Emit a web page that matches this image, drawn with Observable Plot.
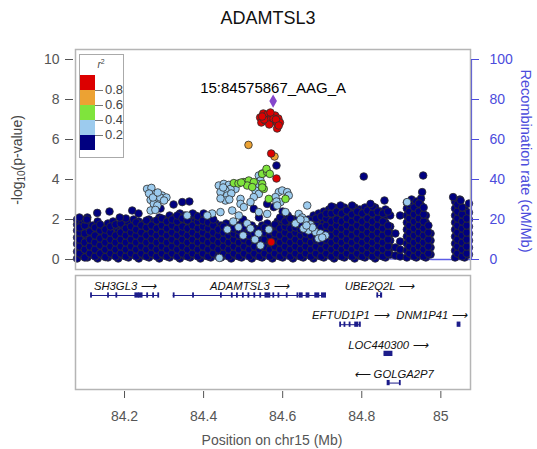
<!DOCTYPE html>
<html><head><meta charset="utf-8">
<script src="https://cdn.jsdelivr.net/npm/d3@7"></script>
<script src="https://cdn.jsdelivr.net/npm/@observablehq/plot@0.6"></script>
<style>
body{margin:0;background:#fff;font-family:"Liberation Sans",Arial,Helvetica,sans-serif;}
#wrap{position:relative;width:537px;height:449px;overflow:hidden;}
.abs{position:absolute;white-space:nowrap;}
.c{transform:translate(-50%,-50%);}
svg{position:absolute;left:0;}
</style></head><body><div id="wrap"></div>
<script>
// ---------- data ----------
const title = "ADAMTSL3";
const indexSnp = [{pos: 84.575867, p: 7.92, name: "15:84575867_AAG_A"}];
const xDomain = [84.076, 85.075];
const xTicks = [84.2, 84.4, 84.6, 84.8, 85];
const pTicks = [0, 2, 4, 6, 8, 10];
const recTicks = [0, 20, 40, 60, 80, 100];
const legendBreaks = ["0.8", "0.6", "0.4", "0.2"];
const ldColors = {red:"#dc0000", orange:"#eca233", green:"#7fe43c", lightblue:"#9ccbee", navy:"#000080", purple:"#8547cc"};

// recombination rate (cM/Mb)
const recPos = [84.076, 84.2, 84.35, 84.5, 84.65, 84.8, 84.95, 84.98, 85.03, 85.075];
const recRate = [0.4, 0.6, 0.3, 0.2, 0.5, 0.3, 0.2, 0, 0, 0];

// navy (r2 < 0.2) points: columns of -log10 p values
const navyCols = [
 [84.080,[0.05,0.4,0.78,1.1,1.45,1.75,2.0]],
 [84.093,[0.2,0.55,0.9,1.22,1.55,1.8]],
 [84.106,[0.1,0.45,0.8,1.15,1.48,1.8,2.1]],
 [84.119,[0.25,0.6,0.95,1.3,1.7]],
 [84.132,[0.05,0.42,0.75,1.1,1.45,1.9]],
 [84.145,[0.2,0.55,0.9,1.25,1.6]],
 [84.158,[0.1,0.45,0.8,1.12,1.5,1.8]],
 [84.171,[0.25,0.6,0.95,1.3,1.6,1.9]],
 [84.184,[0.05,0.4,0.75,1.1,1.4,1.7]],
 [84.197,[0.2,0.55,0.9,1.25,1.6,1.9]],
 [84.210,[0.1,0.45,0.8,1.15,1.5,1.8]],
 [84.223,[0.25,0.6,0.95,1.3,1.65,2.0]],
 [84.236,[0.05,0.4,0.75,1.1,1.45,1.9]],
 [84.249,[0.2,0.55,0.9,1.25,1.55,1.8]],
 [84.262,[0.1,0.45,0.8,1.15,1.5,1.8,2.0]],
 [84.275,[0.25,0.6,0.95,1.3,1.6,1.9]],
 [84.288,[0.05,0.4,0.75,1.1,1.45,1.8,2.1]],
 [84.301,[0.2,0.55,0.9,1.25,1.6,2.0]],
 [84.314,[0.1,0.45,0.8,1.15,1.5,1.85,2.2]],
 [84.327,[0.25,0.6,0.95,1.3,1.65,2.1]],
 [84.340,[0.05,0.4,0.75,1.1,1.45,1.8,2.3]],
 [84.353,[0.2,0.55,0.9,1.25,1.6,1.9,2.2]],
 [84.366,[0.1,0.45,0.8,1.15,1.5,1.8,2.1]],
 [84.379,[0.25,0.6,0.95,1.3,1.65,1.95,2.2]],
 [84.392,[0.05,0.4,0.75,1.1,1.45,1.75,2.0]],
 [84.405,[0.2,0.55,0.9,1.25,1.6,1.9,2.1]],
 [84.418,[0.1,0.45,0.8,1.15,1.5,1.9]],
 [84.431,[0.25,0.6,0.95,1.3,1.55,1.8]],
 [84.444,[0.1,0.45,0.8,1.15,1.45,1.7]],
 [84.457,[0.25,0.6,0.95,1.3,1.55,1.8]],
 [84.470,[0.05,0.4,0.75,1.1,1.35,1.6]],
 [84.483,[0.2,0.55,0.9,1.25,1.5,1.7]],
 [84.496,[0.1,0.45,0.8,1.15,1.5,1.8]],
 [84.509,[0.25,0.6,0.95,1.3,1.6]],
 [84.522,[0.05,0.4,0.75,1.1,1.4,1.7]],
 [84.535,[0.2,0.55,0.9,1.2,1.5]],
 [84.548,[0.1,0.45,0.8,1.15,1.45,1.7]],
 [84.561,[0.25,0.6,0.95,1.3,1.55,1.8]],
 [84.574,[0.05,0.4,0.75,1.1,1.35,1.6]],
 [84.587,[0.2,0.55,0.9,1.25,1.6,1.9]],
 [84.600,[0.1,0.45,0.8,1.15,1.5,1.8,2.0]],
 [84.613,[0.25,0.6,0.95,1.3,1.65,1.95,2.2]],
 [84.626,[0.05,0.4,0.75,1.1,1.45,1.75,2.0]],
 [84.639,[0.2,0.55,0.9,1.25,1.6,1.85,2.1]],
 [84.652,[0.1,0.45,0.8,1.15,1.5,1.9]],
 [84.665,[0.25,0.6,0.95,1.3,1.65,2.0]],
 [84.678,[0.05,0.4,0.75,1.1,1.45,1.8,2.2]],
 [84.691,[0.2,0.55,0.9,1.25,1.6,1.95,2.3]],
 [84.704,[0.1,0.45,0.8,1.15,1.5,1.85,2.15,2.4]],
 [84.717,[0.25,0.6,0.95,1.3,1.65,2.0,2.3,2.5]],
 [84.730,[0.05,0.4,0.75,1.1,1.45,1.8,2.15,2.6]],
 [84.743,[0.2,0.55,0.9,1.25,1.6,1.95,2.25,2.5]],
 [84.756,[0.1,0.45,0.8,1.15,1.5,1.85,2.2,2.6]],
 [84.769,[0.25,0.6,0.95,1.3,1.65,2.0,2.4]],
 [84.782,[0.05,0.4,0.75,1.1,1.45,1.8,2.15,2.6]],
 [84.795,[0.2,0.55,0.9,1.25,1.6,1.95,2.25,2.5]],
 [84.808,[0.1,0.45,0.8,1.15,1.5,1.85,2.2,2.6]],
 [84.821,[0.25,0.6,0.95,1.3,1.65,2.0,2.3,2.5]],
 [84.834,[0.05,0.4,0.75,1.1,1.45,1.8,2.15,2.6]],
 [84.847,[0.2,0.55,0.9,1.25,1.6,1.95,2.4]],
 [84.860,[0.1,0.45,0.8,1.15,1.5,1.85,2.2,2.5]],
 [84.872,[0.25,0.6,0.95,1.3,1.65,2.2]],
 [84.885,[0.2,0.6,1.3]],
 [84.897,[0.15,0.5,0.9,2.2]],
 [84.914,[0.1,0.45,0.8,1.15,1.5,1.85,2.2,2.55,2.85]],
 [84.926,[0.25,0.6,0.95,1.3,1.65,2.0,2.35,2.7,3.0]],
 [84.938,[0.1,0.45,0.8,1.15,1.5,1.85,2.2,2.55,2.9]],
 [84.950,[0.25,0.6,0.95,1.3,1.65,2.0,2.35,2.7,3.05]],
 [84.962,[0.1,0.45,0.8,1.15,1.5,1.85,2.2]],
 [84.974,[0.25,0.6,0.95,1.3]],
 [85.036,[0.1,0.45,0.8,1.15,1.5,1.85,2.2,2.55,2.9]],
 [85.048,[0.25,0.6,0.95,1.3,1.65,2.0,2.35,2.7,3.0]],
 [85.060,[0.1,0.45,0.8,1.15,1.5,1.85,2.2,2.55]],
 [85.071,[0.25,0.6,0.95,1.3,1.65,2.0,2.35,2.8]]
];
// second, interleaved set of navy columns (the mass is very dense)
const navyCols2 = [
 [84.0865,[0.3,0.65,1.0,1.35,1.6]],
 [84.0995,[0.1,0.5,0.85,1.3,1.7,2.0]],
 [84.1125,[0.3,0.65,1.0,1.4]],
 [84.1255,[0.15,0.5,0.85,1.2,1.6]],
 [84.1385,[0.3,0.7,1.05,1.45,1.75]],
 [84.1515,[0.12,0.5,0.85,1.2,1.5]],
 [84.1645,[0.3,0.65,1.0,1.35,1.65]],
 [84.1775,[0.15,0.5,0.85,1.2,1.75]],
 [84.1905,[0.3,0.65,1.0,1.35,1.8]],
 [84.2035,[0.15,0.5,0.85,1.2,1.55,2.05]],
 [84.2165,[0.3,0.65,1.0,1.35,1.65]],
 [84.2295,[0.15,0.5,0.85,1.2,1.5,1.85]],
 [84.2425,[0.3,0.65,1.0,1.35,1.7]],
 [84.2555,[0.15,0.5,0.85,1.2,1.6,1.95]],
 [84.2685,[0.3,0.65,1.0,1.35,1.7]],
 [84.2815,[0.15,0.5,0.85,1.2,1.55,1.95]],
 [84.2945,[0.3,0.65,1.0,1.35,1.7,2.05]],
 [84.3075,[0.15,0.5,0.85,1.2,1.55,1.9]],
 [84.3205,[0.3,0.65,1.0,1.35,1.7,2.0]],
 [84.3335,[0.15,0.5,0.85,1.2,1.55,1.9,2.2]],
 [84.3465,[0.3,0.65,1.0,1.35,1.65,2.05]],
 [84.3595,[0.15,0.5,0.85,1.2,1.55,1.95]],
 [84.3725,[0.3,0.65,1.0,1.35,1.7,2.3]],
 [84.3855,[0.15,0.5,0.85,1.2,1.55,1.9,2.15]],
 [84.3985,[0.3,0.65,1.0,1.35,1.65,1.95]],
 [84.4115,[0.15,0.5,0.85,1.2,1.55,1.85]],
 [84.4245,[0.3,0.65,1.0,1.35,1.7,2.0]],
 [84.4375,[0.15,0.5,0.85,1.2,1.5]],
 [84.4505,[0.3,0.65,1.0,1.35,1.65]],
 [84.4635,[0.15,0.5,0.85,1.2,1.45]],
 [84.4765,[0.3,0.65,1.0,1.3,1.55]],
 [84.4895,[0.15,0.5,0.85,1.2,1.45]],
 [84.5025,[0.3,0.65,1.0,1.35,1.65]],
 [84.5155,[0.15,0.5,0.85,1.2,1.45]],
 [84.5285,[0.3,0.65,1.0,1.3,1.55]],
 [84.5415,[0.15,0.5,0.85,1.2,1.5]],
 [84.5545,[0.3,0.65,1.0,1.35,1.6]],
 [84.5675,[0.15,0.5,0.85,1.2,1.45]],
 [84.5805,[0.3,0.65,1.0,1.3,1.75]],
 [84.5935,[0.15,0.5,0.85,1.2,1.55,2.1]],
 [84.6065,[0.3,0.65,1.0,1.35,1.65,1.9]],
 [84.6195,[0.15,0.5,0.85,1.2,1.55,2.05]],
 [84.6325,[0.3,0.65,1.0,1.35,1.6]],
 [84.6455,[0.15,0.5,0.85,1.2,1.5,1.75]],
 [84.6585,[0.3,0.65,1.0,1.3,1.65]],
 [84.6715,[0.15,0.5,0.85,1.2,1.55,1.95]],
 [84.6845,[0.3,0.65,1.0,1.35,1.7,2.05]],
 [84.6975,[0.15,0.5,0.85,1.2,1.6,2.15]],
 [84.7105,[0.3,0.65,1.0,1.35,1.7,2.05,2.3]],
 [84.7235,[0.15,0.5,0.85,1.2,1.55,1.9,2.3,2.65]],
 [84.7365,[0.3,0.65,1.0,1.35,1.7,2.0,2.4]],
 [84.7495,[0.15,0.5,0.85,1.2,1.55,1.9,2.3]],
 [84.7625,[0.3,0.65,1.0,1.35,1.7,2.05,2.45]],
 [84.7755,[0.15,0.5,0.85,1.2,1.55,1.9,2.25,2.7]],
 [84.7885,[0.3,0.65,1.0,1.35,1.7,2.05,2.4]],
 [84.8015,[0.15,0.5,0.85,1.2,1.55,1.9,2.3]],
 [84.8145,[0.3,0.65,1.0,1.35,1.7,2.05,2.45]],
 [84.8275,[0.15,0.5,0.85,1.2,1.55,1.9,2.3,2.65]],
 [84.8405,[0.3,0.65,1.0,1.35,1.7,2.05,2.4]],
 [84.8535,[0.15,0.5,0.85,1.2,1.55,1.9,2.3]],
 [84.8665,[0.3,0.65,1.0,1.35,1.7,2.4]],
 [84.9205,[0.3,0.65,1.0,1.35,1.7,2.05,2.4,2.75]],
 [84.9325,[0.15,0.5,0.85,1.2,1.55,1.9,2.25,2.6]],
 [84.9445,[0.3,0.65,1.0,1.35,1.7,2.05,2.4,2.8]],
 [84.9565,[0.15,0.5,0.85,1.2,1.55,1.9,2.25,2.6]],
 [84.9685,[0.3,0.65,1.0,1.35,1.7]],
 [85.0420,[0.3,0.65,1.0,1.35,1.7,2.05,2.4,2.75]],
 [85.0540,[0.15,0.5,0.85,1.2,1.55,1.9,2.25,2.6]],
 [85.0655,[0.3,0.65,1.0,1.35,1.7,2.05]]
];
const navyExtra = [[84.086,2.1],[84.131,2.33],[84.162,2.4],[84.2195,2.45],[84.2354,2.3],[84.291,2.55],
 [84.324,2.75],[84.346,2.87],[84.364,2.9],[84.6,2.4],[84.5269,2.53],[84.5608,2.78],[84.5775,2.62],
 [84.5843,4.7],[84.805,4.15],[84.9553,4.2],[84.9527,3.37],[84.7462,2.7],[84.822,2.78],[84.8574,2.95],
 [85.031,3.12],[85.05,2.95],[84.105,2.0],[84.188,2.1],[84.4,2.3],[84.5,2.0],[84.54,2.1]];

const lightblueSnps = [[84.257,3.53],[84.268,3.58],[84.278,3.28],[84.295,3.2],[84.287,3.03],[84.266,2.98],
 [84.274,2.78],[84.283,2.7],[84.266,2.45],[84.278,2.48],[84.29,3.1],[84.262,3.3],[84.272,3.1],[84.306,3.1],
 [84.3,2.95],[84.284,3.35],[84.4217,2.3],[84.3585,2.2],[84.440,0.08],
 [84.4384,3.7],[84.451,3.78],[84.4637,3.73],[84.4764,3.78],[84.4807,3.53],[84.468,3.53],[84.4554,3.45],
 [84.4427,3.37],[84.4597,3.2],[84.4554,2.95],[84.4427,3.05],[84.4495,3.6],[84.47,3.3],[84.465,3.0],
 [84.5396,4.2],[84.5439,3.95],[84.5355,3.78],[84.5312,3.45],[84.5396,3.28],[84.5269,3.12],[84.5186,2.87],
 [84.4933,3.03],[84.4933,2.78],[84.5017,2.62],[84.5901,3.37],[84.5987,3.45],[84.6114,3.37],[84.5944,2.87],
 [84.5818,3.12],[84.5482,4.3],[84.6154,3.2],[84.5843,2.9],[84.662,2.7],
 [84.4091,2.2],[84.4427,2.37],[84.4723,2.45],[84.489,2.2],[84.5396,2.37],[84.5608,2.28],[84.5861,2.7],
 [84.6071,2.37],[84.4882,1.62],[84.5102,1.8],[84.5186,1.55],[84.5388,1.3],[84.5439,0.7],[84.5649,1.5],
 [84.5,1.2],[84.53,1.0],[84.475,1.9],[84.46,1.5],
 [84.6324,1.8],[84.6407,2.28],[84.6493,2.1],[84.6577,1.95],[84.6652,1.45],[84.683,1.37],[84.6956,1.3],
 [84.6905,1.05],[84.6526,1.55],[84.6703,1.75],[84.6753,1.6],[84.7082,1.2],[84.645,2.0],[84.66,1.7],
 [84.7,1.1],[84.9148,2.87]];
const greenSnps = [[84.4764,3.82],[84.4882,3.8],[84.5017,3.87],[84.5143,3.95],[84.5269,3.87],[84.5102,3.7],
 [84.5229,3.62],[84.5482,3.78],[84.5522,3.53],[84.5482,4.28],[84.5608,4.37],[84.5649,3.03],[84.6071,3.03],
 [84.559,4.53],[84.5674,4.28],[84.5482,3.6],[84.495,3.85]];
const orangeSnps = [[84.5135,5.73],[84.5793,5.15]];
const redSnps = [[84.543,7.1],[84.551,7.3],[84.561,7.25],[84.571,7.15],[84.581,7.2],[84.589,7.05],
 [84.546,6.85],[84.556,6.95],[84.566,6.95],[84.576,6.9],[84.586,6.85],[84.593,6.85],[84.586,6.55],
 [84.566,6.75],[84.553,7.0],[84.577,7.05],[84.583,7.0],[84.548,7.15],[84.569,7.35],[84.59,6.7],
 [84.5709,5.3],[84.5843,4.05],[84.5709,0.87]];

// genes
const geneNames  = ["SH3GL3","ADAMTSL3","UBE2Q2L","EFTUD1P1","DNM1P41","LOC440300","GOLGA2P7"];
const geneStart  = [84.116, 84.323, 84.839, 84.746, 85.042, 84.857, 84.866];
const geneEnd    = [84.287, 84.709, 84.851, 84.797, 85.050, 84.877, 84.898];
const geneStrand = ["+","+","+","+","+","+","-"];
const geneRow    = [0, 0, 0, 1, 1, 2, 3];
const exonList = [
 ["SH3GL3",84.116,84.117],["SH3GL3",84.159,84.160],["SH3GL3",84.180,84.181],["SH3GL3",84.228,84.236],
 ["SH3GL3",84.238,84.245],["SH3GL3",84.258,84.259],["SH3GL3",84.273,84.274],["SH3GL3",84.286,84.287],
 ["ADAMTSL3",84.325,84.326],["ADAMTSL3",84.374,84.375],["ADAMTSL3",84.4445,84.4455],["ADAMTSL3",84.472,84.473],
 ["ADAMTSL3",84.485,84.486],["ADAMTSL3",84.500,84.501],["ADAMTSL3",84.514,84.515],["ADAMTSL3",84.529,84.530],
 ["ADAMTSL3",84.544,84.545],["ADAMTSL3",84.557,84.568],["ADAMTSL3",84.577,84.578],["ADAMTSL3",84.590,84.591],
 ["ADAMTSL3",84.611,84.612],["ADAMTSL3",84.638,84.639],["ADAMTSL3",84.644,84.650],["ADAMTSL3",84.661,84.667],
 ["ADAMTSL3",84.683,84.692],["ADAMTSL3",84.700,84.709],
 ["UBE2Q2L",84.840,84.841],["UBE2Q2L",84.849,84.851],
 ["EFTUD1P1",84.746,84.747],["EFTUD1P1",84.757,84.758],["EFTUD1P1",84.770,84.771],["EFTUD1P1",84.784,84.790],["EFTUD1P1",84.795,84.797],
 ["DNM1P41",85.043,85.049],
 ["LOC440300",84.858,84.877],
 ["GOLGA2P7",84.866,84.870],["GOLGA2P7",84.897,84.898]
];

// ---------- build ----------
(function () {
const blue = "#4c4cdc";
const FONT = "Liberation Sans, Arial, Helvetica, sans-serif";
const GENE_FS = 11.3;
const wrap = document.getElementById("wrap");
const toObj = arr => arr.map(([pos, p]) => ({pos, p}));
const fromCols = cols => cols.flatMap(([pos, vals]) => vals.map(p => ({pos, p})));
const navy = fromCols(navyCols).concat(fromCols(navyCols2), toObj(navyExtra));
const rec = recPos.map((pos, i) => ({pos, rate: recRate[i]}));
const dotOpts = (fill) => ({x: "pos", y: "p", r: 3.8, fill, stroke: "#2e2e2e", strokeWidth: 0.8});

const topPlot = Plot.plot({
  width: 537, height: 232, marginLeft: 75, marginRight: 67, marginTop: 9, marginBottom: 3,
  style: {fontFamily: FONT, background: "transparent", overflow: "visible"},
  x: {domain: xDomain, axis: null},
  y: {domain: [-0.5, 10.5]},
  marks: [
    Plot.line(rec, {x: "pos", y: d => d.rate / 10, stroke: "#5c5ce6", strokeWidth: 1.3}),
    Plot.dot(navy, dotOpts(ldColors.navy)),
    Plot.dot(toObj(lightblueSnps), dotOpts(ldColors.lightblue)),
    Plot.dot(toObj(greenSnps), dotOpts(ldColors.green)),
    Plot.dot(toObj(orangeSnps), dotOpts(ldColors.orange)),
    Plot.dot(toObj(redSnps), dotOpts(ldColors.red)),
    Plot.dot(indexSnp, {x: "pos", y: "p", symbol: "diamond", r: 4, fill: ldColors.purple}),
    Plot.text(indexSnp, {x: "pos", y: "p", text: "name", dy: -13, fontSize: 15, fill: "#000"}),
    Plot.ruleX([xDomain[1]], {y1: recTicks[0] / 10, y2: recTicks[recTicks.length - 1] / 10, stroke: blue, strokeWidth: 1.2, dx: 1}),
    Plot.frame({stroke: "#b5b5b5", strokeWidth: 1.5}),
    Plot.axisY({anchor: "left", ticks: pTicks, tickSize: 8, tickPadding: 6, dx: -2, fontSize: 14, color: "#555", label: null}),
    Plot.axisY({anchor: "right", ticks: recTicks.map(v => v / 10), tickFormat: d => String(Math.round(d * 10)),
      tickSize: 8, tickPadding: 11, fontSize: 14, color: blue, label: null})
  ]
});
topPlot.style.top = "40px";
wrap.appendChild(topPlot);

// genes panel
const genes = geneNames.map((name, i) => ({name, start: geneStart[i], end: geneEnd[i], strand: geneStrand[i], row: geneRow[i]}));
const rowOf = Object.fromEntries(genes.map(g => [g.name, g.row]));
const exons = exonList.map(([name, s, e]) => ({name, s, e, row: rowOf[name]}));
const ctx = document.createElement("canvas").getContext("2d");
ctx.font = "italic " + GENE_FS + "px " + FONT;
const pxPerMb = (537 - 75 - 67) / (xDomain[1] - xDomain[0]);
genes.forEach(g => {
  g.label = g.strand === "+" ? g.name + " \u27F6" : "\u27F5 " + g.name;
  const w = ctx.measureText(g.label).width;
  const mid = (g.start + g.end) / 2;
  const maxMid = xDomain[1] - (w / 2 + 3) / pxPerMb;
  g.lx = Math.min(mid, maxMid);
});

const bottomPlot = Plot.plot({
  width: 537, height: 177, marginLeft: 75, marginRight: 67, marginTop: 3, marginBottom: 60,
  style: {fontFamily: FONT, background: "transparent", overflow: "visible"},
  x: {domain: xDomain},
  y: {domain: [-0.685, 3.22], reverse: true, axis: null},
  marks: [
    Plot.frame({stroke: "#b5b5b5", strokeWidth: 1.5}),
    Plot.ruleY(genes, {x1: "start", x2: "end", y: "row", stroke: "#1c1c8a", strokeWidth: 1}),
    Plot.rect(exons, {x1: "s", x2: "e", y1: d => d.row - 0.09, y2: d => d.row + 0.09, fill: "#1c1c8a", insetLeft: -0.7, insetRight: -0.7}),
    Plot.text(genes, {x: "lx", y: "row", text: "label", dy: -9, fontSize: GENE_FS, fontStyle: "italic", fill: "#111"}),
    Plot.axisX({ticks: xTicks, tickFormat: d => d === 85 ? "85" : d.toFixed(1), tickSize: 7, dy: 2,
      tickPadding: 13, fontSize: 14, color: "#555", label: null})
  ]
});
bottomPlot.style.top = "272px";
wrap.appendChild(bottomPlot);

// texts
function addText(html, css, cls) {
  const d = document.createElement("div");
  d.className = "abs " + (cls || "");
  d.innerHTML = html;
  Object.assign(d.style, css);
  wrap.appendChild(d);
  return d;
}
addText(title, {left: "268px", top: "18px", fontSize: "18px", color: "#111"}, "c");
addText("-log<sub style='font-size:10px;vertical-align:-3px'>10</sub>(p-value)",
  {left: "18px", top: "160px", fontSize: "14px", color: "#444", transform: "translate(-50%,-50%) rotate(-90deg)"});
addText("Recombination rate (cM/Mb)",
  {left: "526px", top: "161px", fontSize: "14.5px", color: blue, transform: "translate(-50%,-50%) rotate(90deg)"});
addText("Position on chr15 (Mb)", {left: "272px", top: "440px", fontSize: "14px", color: "#555"}, "c");

// legend
const lg = document.createElement("div");
lg.className = "abs";
Object.assign(lg.style, {left: "79px", top: "54px", width: "45px", height: "104px", border: "1px solid #aaa", background: "#fff", boxSizing: "border-box"});
wrap.appendChild(lg);
addText("<i>r</i><sup style='font-size:7px'>2</sup>", {left: "101px", top: "64px", fontSize: "10px", color: "#444"}, "c");
const swCols = [ldColors.red, ldColors.orange, ldColors.green, ldColors.lightblue, ldColors.navy];
swCols.forEach((c, i) => {
  addText("", {left: "80px", top: (75 + i * 15) + "px", width: "15px", height: "15px", background: c});
});
legendBreaks.forEach((t, i) => {
  const y = 90 + i * 15;
  addText("", {left: "95px", top: (y - 0.5) + "px", width: "8px", height: "1px", background: "#777"});
  addText(t, {left: "105px", top: (y - 8) + "px", fontSize: "13px", color: "#444", lineHeight: "16px"});
});
})();
</script>
</body></html>
